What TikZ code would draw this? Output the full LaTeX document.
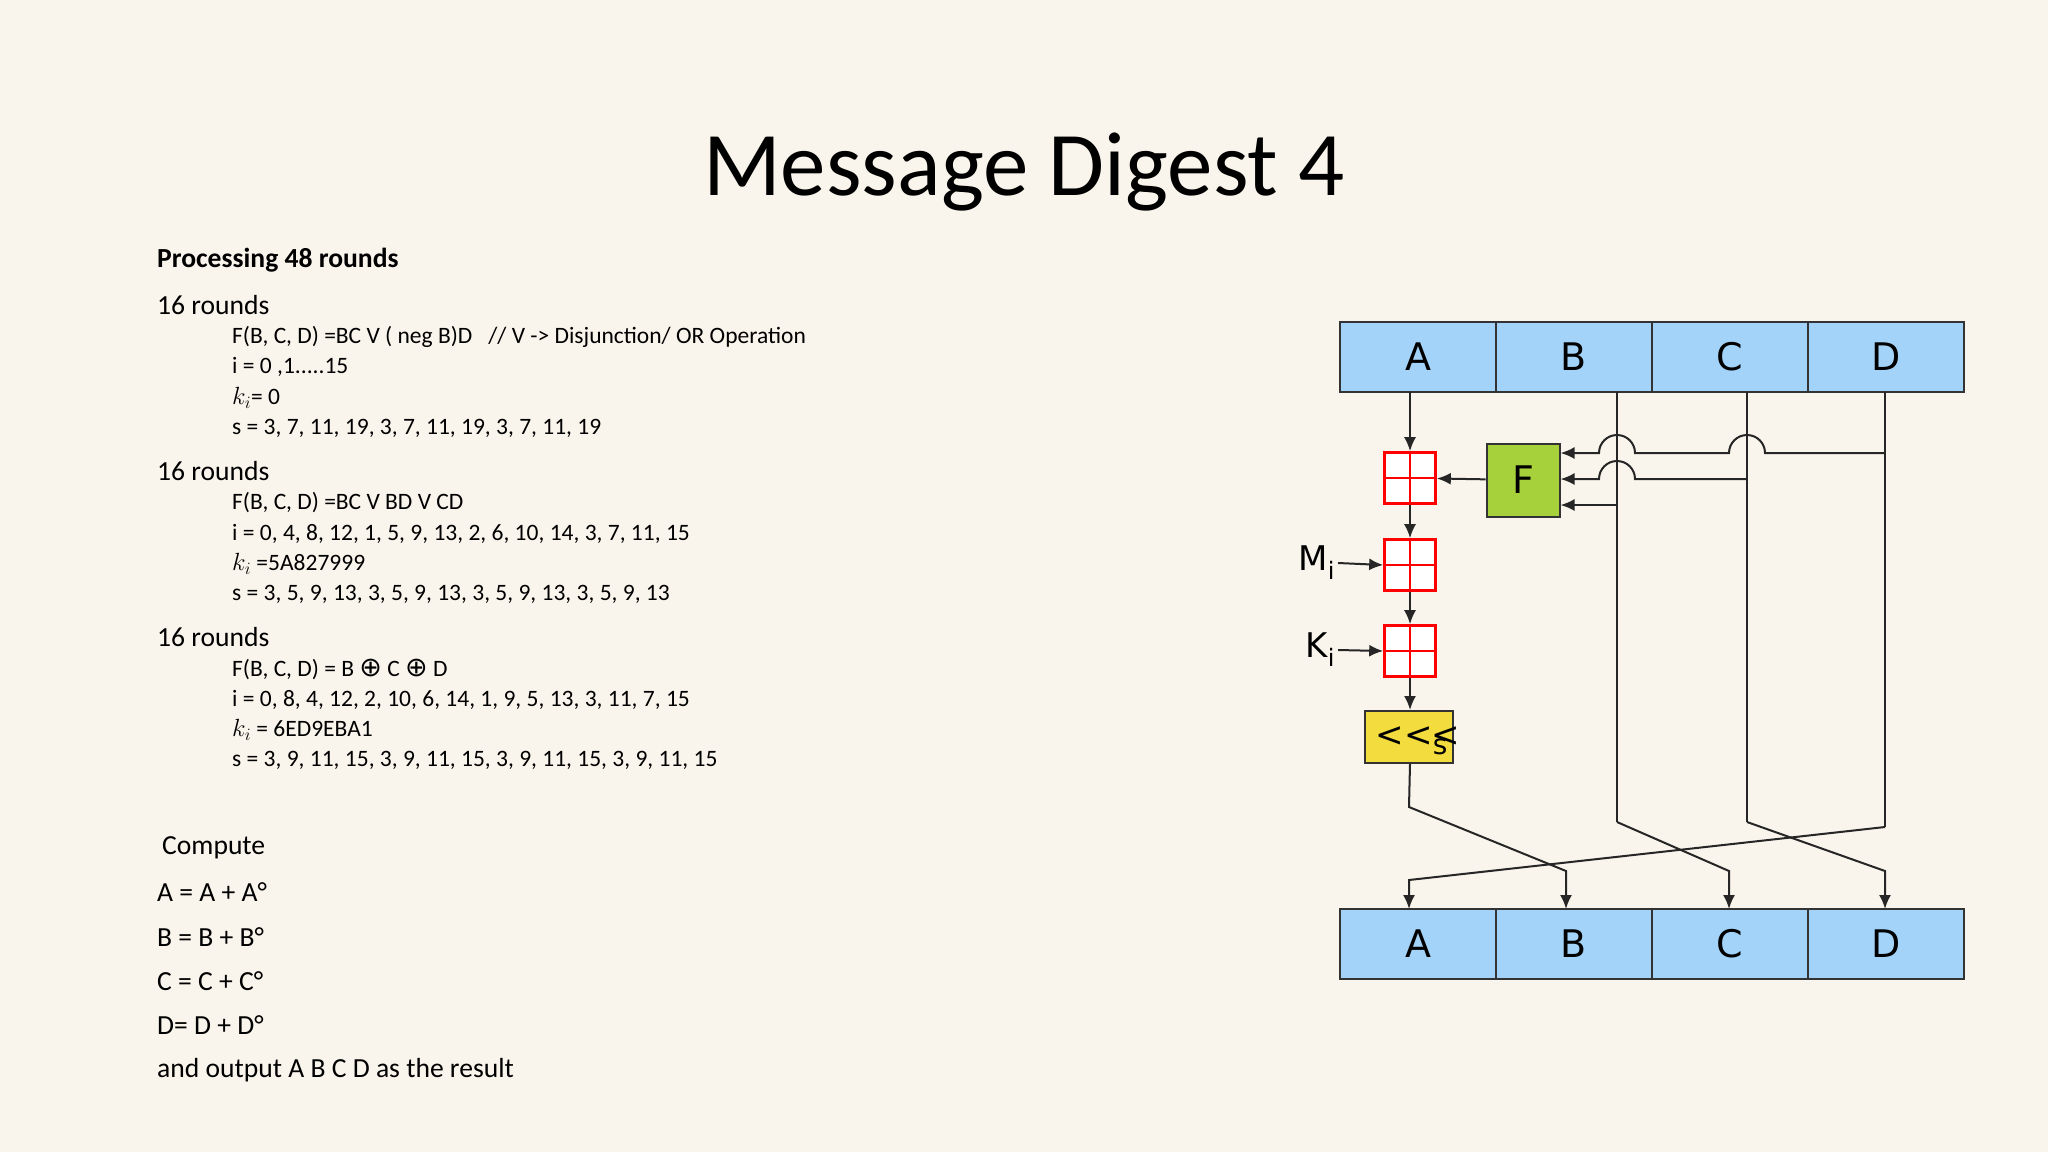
\documentclass[tikz,border=0pt]{standalone}
\usepackage{fontspec}
\setmainfont{Carlito}
\newfontfamily\dvs{DejaVu Sans}
\usetikzlibrary{arrows.meta}
\definecolor{bg}{HTML}{FAF5EC}
\definecolor{regblue}{HTML}{A3D3F9}
\definecolor{fgreen}{HTML}{A6D13A}
\definecolor{syellow}{HTML}{F2DC3E}
\tikzset{
  reg/.style={draw=black!80, line width=2.2pt, fill=regblue, minimum width=156pt, minimum height=70pt, inner sep=0pt, font=\dvs\fontsize{38}{38}\selectfont},
  adder/.style={draw=red, line width=2.6pt, fill=white, minimum width=51pt, minimum height=51pt, inner sep=0pt,
    path picture={\draw[red,line width=2.6pt] (path picture bounding box.north) -- (path picture bounding box.south) (path picture bounding box.west) -- (path picture bounding box.east);}},
  wire/.style={draw=black!85, line width=2pt},
  arr/.style={wire, -{Latex[length=14pt,width=12pt]}},
  txt/.style={anchor=west, inner sep=0pt},
  sub/.style={font=\fontsize{23.5}{23.5}\selectfont},
  big/.style={font=\fontsize{27.6}{27.6}\selectfont},
}
\begin{document}
\begin{tikzpicture}[x=1pt,y=-1pt]
\fill[bg] (0,0) rectangle (2048,1152);
\useasboundingbox (0,0) rectangle (2048,1152);
\node (title) at (1024,172) {\fontsize{91}{91}\selectfont Message Digest 4};
\begin{scope}[every node/.style={txt}]
\node (p) at (157,260) {\fontsize{27.6}{27.6}\selectfont\bfseries Processing 48 rounds};
\node[big] (r1) at (157,305) {16 rounds};
\node[sub] (a1) at (232,337) {F(B, C, D) =BC V ( neg B)D \ \ // V -> Disjunction/ OR Operation};
\node[sub] (a2) at (232,367) {i = 0 ,1.....15};
\node[sub] (a3) at (232,398) {$k_i$= 0};
\node[sub] (a4) at (232,428) {s = 3, 7, 11, 19, 3, 7, 11, 19, 3, 7, 11, 19};
\node[big] (r2) at (157,471) {16 rounds};
\node[sub] (b1) at (232,503) {F(B, C, D) =BC V BD V CD};
\node[sub] (b2) at (232,534) {i = 0, 4, 8, 12, 1, 5, 9, 13, 2, 6, 10, 14, 3, 7, 11, 15};
\node[sub] (b3) at (232,564) {$k_i$ =5A827999};
\node[sub] (b4) at (232,594) {s = 3, 5, 9, 13, 3, 5, 9, 13, 3, 5, 9, 13, 3, 5, 9, 13};
\node[big] (r3) at (157,637) {16 rounds};
\node[sub] (c1) at (232,669) {F(B, C, D) = B {\dvs\fontsize{27}{27}\selectfont ⊕} C {\dvs\fontsize{27}{27}\selectfont ⊕} D};
\node[sub] (c2) at (232,700) {i = 0, 8, 4, 12, 2, 10, 6, 14, 1, 9, 5, 13, 3, 11, 7, 15};
\node[sub] (c3) at (232,730) {$k_i$ = 6ED9EBA1};
\node[sub] (c4) at (232,760) {s = 3, 9, 11, 15, 3, 9, 11, 15, 3, 9, 11, 15, 3, 9, 11, 15};
\node[big] (d0) at (162,848) {Compute};
\node[big] (d1) at (157,892) {A = A + A°};
\node[big] (d2) at (157,937) {B = B + B°};
\node[big] (d3) at (157,981) {C = C + C°};
\node[big] (d4) at (157,1025) {D= D + D°};
\node[big] (d5) at (157,1070) {and output A B C D as the result};
\end{scope}
% registers
\foreach \n/\x in {A/1418,B/1574,C/1730,D/1886}{
  \node[reg] (t\n) at (\x,357) {\n};
  \node[reg] (b\n) at (\x,944) {\n};
}
\node[adder] (ad1) at (1410,478) {};
\node[adder] (ad2) at (1410,565) {};
\node[adder] (ad3) at (1410,651) {};
\node[draw=black!80,line width=2pt,fill=fgreen,minimum width=73pt,minimum height=73pt,inner sep=0pt,font=\dvs\fontsize{38}{38}\selectfont] (F) at (1523,480) {F};
\node[draw=black!80,line width=2pt,fill=syellow,minimum width=88pt,minimum height=52pt,inner sep=0pt] (sh) at (1409,737) {};
\node[font=\dvs\fontsize{34}{34}\selectfont] (shl) at (1418,741) {<<\raisebox{-8pt}{\fontsize{28}{28}\selectfont s}\kern-16pt<};
\node[font=\dvs\fontsize{34}{34}\selectfont, anchor=east] (Mi) at (1338,563) {M\raisebox{-9pt}{\fontsize{24}{24}\selectfont i}};
\node[font=\dvs\fontsize{34}{34}\selectfont, anchor=east] (Ki) at (1338,650) {K\raisebox{-9pt}{\fontsize{24}{24}\selectfont i}};
% main chain
\draw[arr] (1410,392) -- (ad1.north);
\draw[arr] (ad1) -- (ad2);
\draw[arr] (ad2) -- (ad3);
\draw[arr] (ad3.south) -- (sh.north -| ad3);
\draw[arr] (F) -- (ad1);
\draw[arr] (Mi.east) -- (ad2.west);
\draw[arr] (Ki.east) -- (ad3.west);
% F inputs
\coordinate (Bt) at (1617,392); \coordinate (Ct) at (1747,392); \coordinate (Dt) at (1885,392);
\draw[wire] (Dt) -- (1885,827);
\draw[wire] (Ct) -- (1747,822);
\draw[wire] (Bt) -- (1617,822);
\draw[arr] (1885,453) -- (1765,453) arc[start angle=0,end angle=-180,radius=18] -- (1635,453) arc[start angle=0,end angle=-180,radius=18] -- (F.east |- 0,453);
\draw[arr] (1747,479) -- (1635,479) arc[start angle=0,end angle=-180,radius=18] -- (F.east |- 0,479);
\draw[arr] (1617,505) -- (F.east |- 0,505);
% crossing to output
\draw[arr] (sh.south -| ad3) -- (1409,807) -- (1566,871) -- (1566,909);
\draw[arr] (1617,822) -- (1729,871) -- (1729,909);
\draw[arr] (1747,822) -- (1885,871) -- (1885,909);
\draw[arr] (1885,827) -- (1409,880) -- (1409,909);
\end{tikzpicture}
\end{document}
